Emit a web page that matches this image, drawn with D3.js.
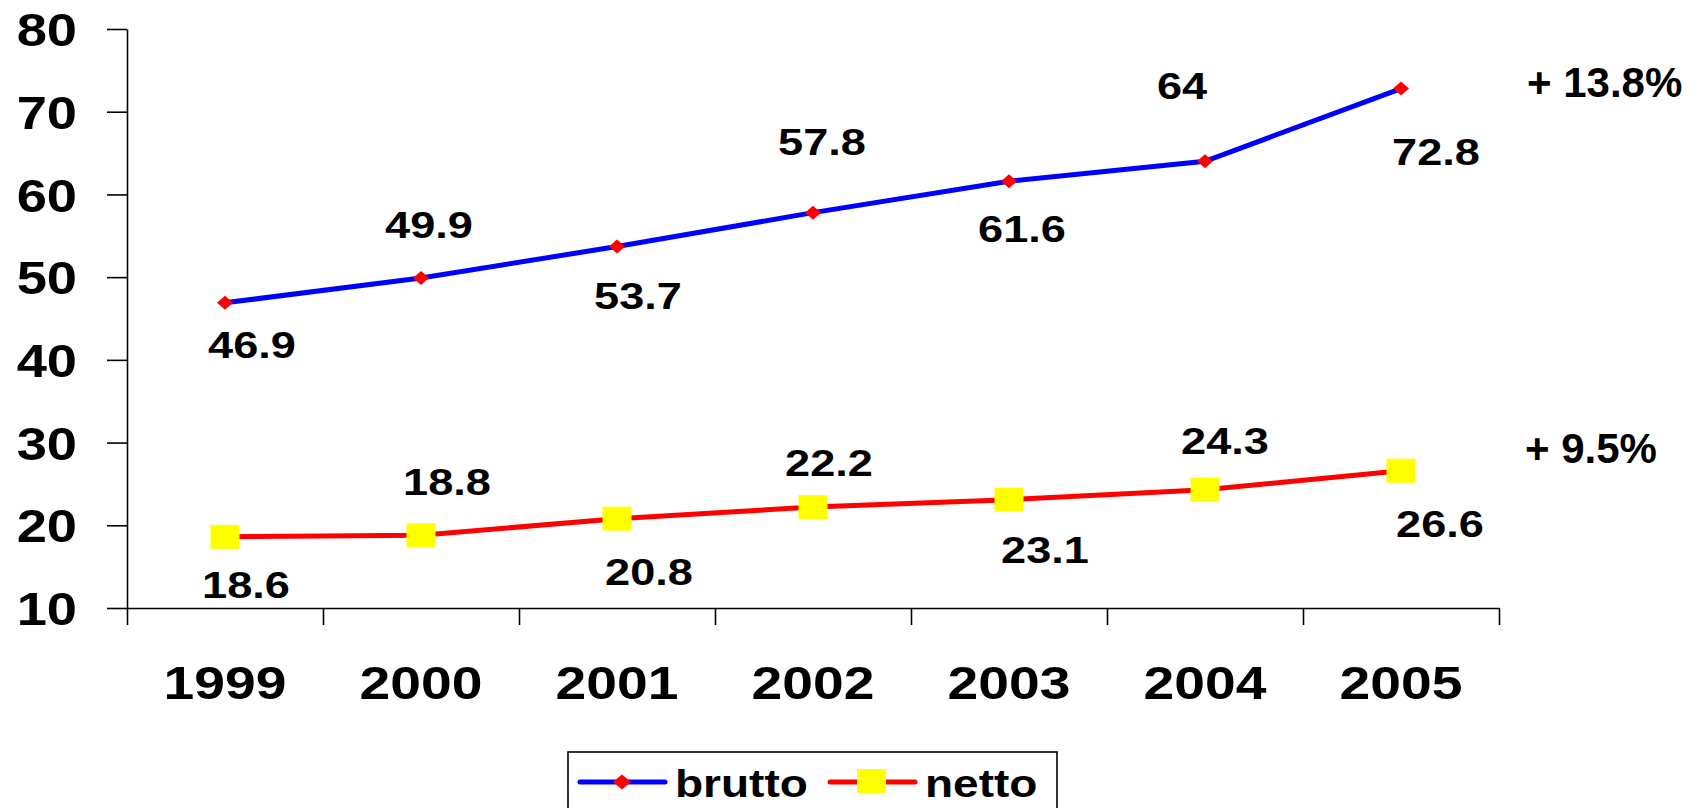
<!DOCTYPE html>
<html>
<head>
<meta charset="utf-8">
<script src="https://cdn.jsdelivr.net/npm/d3@7"></script>
<style>
    body { margin: 0; background: #fff; }
    svg text { font-family: "Liberation Sans", Arial, sans-serif; font-weight: bold; fill: #000; }
</style>
</head>
<body>
<div id="chart"></div>
<script>
// data
var years = ["1999", "2000", "2001", "2002", "2003", "2004", "2005"];
var brutto = [46.9, 49.9, 53.7, 57.8, 61.6, 64, 72.8];
var netto = [18.6, 18.8, 20.8, 22.2, 23.1, 24.3, 26.6];
var yTicks = [10, 20, 30, 40, 50, 60, 70, 80];
var seriesNames = ["brutto", "netto"];
var growthLabels = ["+ 13.8%", "+ 9.5%"];

// hand placed label offsets (dx, dy) from each point, like in the original
var bruttoLabelPos = [[27, 55], [8, -40], [21, 62], [9, -58], [13, 61], [-23, -62], [35, 76]];
var nettoLabelPos = [[21, 61], [26, -40], [32, 66], [16, -31], [36, 63], [20, -36], [39, 66]];

var W = 1702, H = 808;
var margin = {left: 127, right: 1499, top: 29, bottom: 608};
var stretch = 1.2; // text in the original is a bit wider than normal

var svg = d3.select("#chart").append("svg")
    .attr("width", W)
    .attr("height", H);

// set the ranges
var x = d3.scaleBand().domain(years).range([margin.left, margin.right]);
var xEdge = d3.scaleLinear().domain([0, years.length]).range([margin.left, margin.right]);
var y = d3.scaleLinear().domain([10, 80]).range([margin.bottom, margin.top]);

function cx(d, i) { return x(years[i]) + x.bandwidth() / 2; }

// y axis
var yAxis = svg.append("g")
    .attr("transform", "translate(" + margin.left + ",0)")
    .call(d3.axisLeft(y).tickValues(yTicks).tickSize(20).tickSizeOuter(0).tickFormat(d3.format("d")));
yAxis.selectAll("text")
    .attr("x", -50 / 1.18)
    .attr("dy", "0.36em")
    .attr("transform", "scale(1.18,1)")
    .style("font-size", "46px");

// x axis: ticks between the categories
svg.append("g")
    .attr("transform", "translate(0," + margin.bottom + ")")
    .call(d3.axisBottom(xEdge).tickValues(d3.range(years.length + 1)).tickSize(17).tickSizeOuter(0).tickFormat(""));

var xLabels = svg.append("g")
    .attr("transform", "translate(0," + margin.bottom + ")")
    .call(d3.axisBottom(x).tickSize(0));
xLabels.select(".domain").remove();
xLabels.selectAll("text")
    .attr("y", 91)
    .attr("dy", 0)
    .attr("transform", "scale(" + stretch + ",1)")
    .style("font-size", "46px");

svg.selectAll(".domain, .tick line").attr("stroke", "#000").attr("stroke-width", 1.6);

// the value lines
var line = d3.line()
    .x(cx)
    .y(function(d) { return y(d); });

svg.append("path")
    .datum(brutto)
    .attr("fill", "none")
    .attr("stroke", "#0000ff")
    .attr("stroke-width", 5)
    .attr("d", line);

svg.append("path")
    .datum(netto)
    .attr("fill", "none")
    .attr("stroke", "#ff0000")
    .attr("stroke-width", 5)
    .attr("d", line);

// markers
var diamond = "M0,-7L8,0L0,7L-8,0Z";
svg.selectAll(".dia").data(brutto).enter().append("path")
    .attr("class", "dia")
    .attr("d", diamond)
    .attr("fill", "#ff0000")
    .attr("transform", function(d, i) { return "translate(" + cx(d, i) + "," + y(d) + ")"; });

svg.selectAll(".sq").data(netto).enter().append("rect")
    .attr("class", "sq")
    .attr("x", function(d, i) { return cx(d, i) - 14.5; })
    .attr("y", function(d) { return y(d) - 12; })
    .attr("width", 29)
    .attr("height", 24)
    .attr("fill", "#ffff00");

// data labels
function labels(data, pos, cls) {
    svg.selectAll("." + cls).data(data).enter().append("text")
        .attr("class", cls)
        .attr("text-anchor", "middle")
        .style("font-size", "37px")
        .attr("transform", function(d, i) {
            return "translate(" + (cx(d, i) + pos[i][0]) + "," + (y(d) + pos[i][1]) + ") scale(1.22,1)";
        })
        .text(function(d) { return d; });
}
labels(brutto, bruttoLabelPos, "lb");
labels(netto, nettoLabelPos, "ln");

// growth notes on the right
svg.append("text").attr("x", 1527).attr("y", 97).style("font-size", "42px").text(growthLabels[0]);
svg.append("text").attr("x", 1525).attr("y", 463).style("font-size", "42px").text(growthLabels[1]);

// legend
var lg = svg.append("g");
lg.append("rect")
    .attr("x", 568).attr("y", 752).attr("width", 489).attr("height", 90)
    .attr("fill", "none").attr("stroke", "#000").attr("stroke-width", 1.6);
lg.append("line").attr("x1", 580).attr("x2", 665).attr("y1", 782).attr("y2", 782)
    .attr("stroke", "#0000ff").attr("stroke-width", 5).attr("stroke-linecap", "round");
lg.append("path").attr("d", "M0,-7.5L9,0L0,7.5L-9,0Z").attr("fill", "#ff0000")
    .attr("transform", "translate(622,782)");
lg.append("text").attr("transform", "translate(675,797) scale(1.18,1)")
    .style("font-size", "39px").text(seriesNames[0]);
lg.append("line").attr("x1", 830).attr("x2", 915).attr("y1", 782).attr("y2", 782)
    .attr("stroke", "#ff0000").attr("stroke-width", 5).attr("stroke-linecap", "round");
lg.append("rect").attr("x", 857).attr("y", 769).attr("width", 29).attr("height", 24).attr("fill", "#ffff00");
lg.append("text").attr("transform", "translate(925,797) scale(1.18,1)")
    .style("font-size", "39px").text(seriesNames[1]);
</script>
</body>
</html>
